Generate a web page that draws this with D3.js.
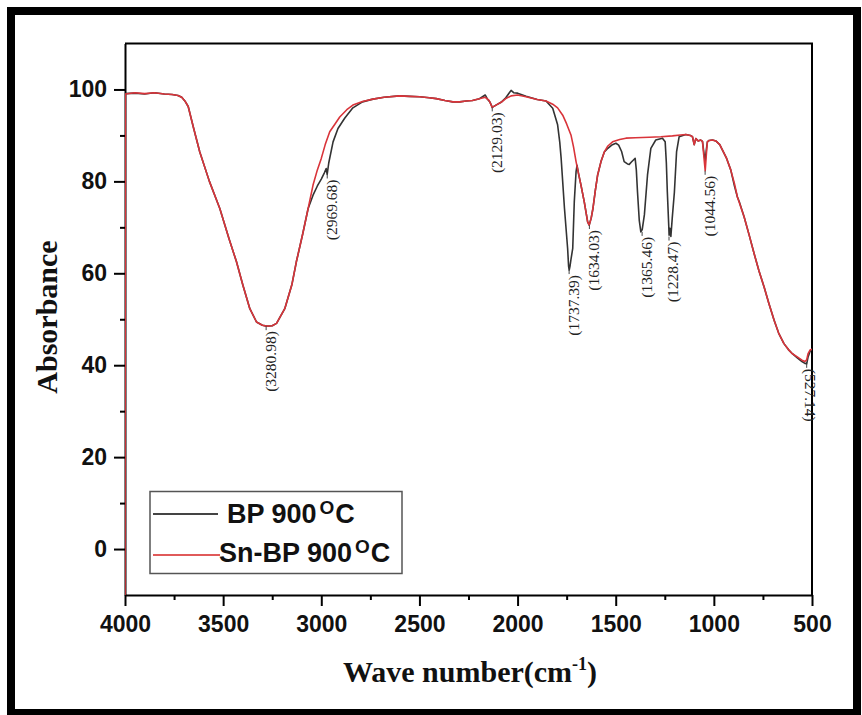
<!DOCTYPE html>
<html>
<head>
<meta charset="utf-8">
<script src="https://cdn.jsdelivr.net/npm/d3@7"></script>
<style>
  body { margin: 0; background: #fff; }
</style>
</head>
<body>
<script>
// BP 900 C spectrum (wavenumber, absorbance)
const bpWave = [4000, 3950, 3900, 3850, 3800, 3760, 3730, 3711, 3695, 3678, 3650, 3619, 3570, 3517, 3470, 3432, 3400, 3364, 3330, 3300, 3279, 3250, 3228, 3186, 3150, 3127, 3095, 3067, 3042, 3020, 3000, 2985, 2975, 2970, 2962, 2940, 2915, 2880, 2839, 2790, 2737, 2680, 2601, 2550, 2499, 2450, 2414, 2370, 2330, 2295, 2262, 2230, 2194, 2165, 2152, 2140, 2129, 2110, 2084, 2060, 2040, 2033, 2020, 2000, 1957, 1900, 1855, 1821, 1796, 1785, 1778, 1761, 1745, 1740, 1737, 1733, 1728, 1719, 1711, 1702, 1697, 1690, 1677, 1660, 1643, 1635, 1625, 1616, 1604, 1592, 1575, 1558, 1540, 1520, 1499, 1485, 1470, 1457, 1440, 1431, 1420, 1411, 1401, 1395, 1389, 1380, 1372, 1365, 1354, 1338, 1321, 1296, 1262, 1248, 1242, 1237, 1230, 1228, 1224, 1219, 1212, 1201, 1190, 1177, 1143, 1120, 1109, 1100, 1092, 1080, 1067, 1058, 1050, 1044, 1038, 1033, 1024, 1007, 990, 970, 956, 935, 914, 895, 880, 870, 846, 820, 795, 770, 744, 720, 693, 670, 643, 620, 600, 575, 551, 536, 527, 520, 510, 500]
const bpAbs = [99.1, 99.2, 99.0, 99.3, 99.0, 98.9, 98.7, 98.3, 97.5, 96.3, 91.5, 86.4, 80.0, 74.1, 67.5, 62.5, 57.5, 52.3, 49.4, 48.7, 48.5, 48.6, 49.1, 52.3, 57.5, 62.5, 68.5, 74.1, 77.0, 79.0, 80.5, 81.8, 82.8, 81.5, 84.0, 88.6, 91.5, 93.8, 96.0, 97.3, 97.9, 98.3, 98.6, 98.5, 98.4, 98.2, 98.0, 97.6, 97.3, 97.3, 97.5, 97.6, 98.0, 98.8, 97.8, 97.2, 96.1, 96.6, 97.2, 98.2, 99.4, 99.8, 99.3, 99.2, 98.5, 97.8, 97.5, 95.9, 92.3, 88.5, 85.0, 74.1, 65.4, 61.5, 60.7, 61.5, 63.0, 65.4, 75.6, 82.1, 83.5, 81.8, 79.2, 75.5, 71.2, 70.5, 72.0, 74.1, 78.0, 81.4, 84.3, 86.4, 87.2, 87.9, 88.3, 87.9, 86.5, 84.3, 83.8, 83.7, 84.2, 84.6, 85.0, 82.5, 77.7, 71.5, 69.0, 69.5, 72.7, 81.4, 87.2, 89.0, 89.4, 88.6, 84.0, 77.7, 70.5, 68.3, 69.8, 68.0, 72.0, 77.7, 86.4, 89.7, 90.2, 90.0, 89.7, 88.0, 89.3, 88.8, 89.0, 88.7, 86.0, 84.5, 87.0, 88.6, 88.9, 89.0, 88.8, 88.0, 86.8, 85.0, 82.5, 79.0, 76.6, 75.5, 72.3, 68.3, 64.3, 60.5, 57.0, 53.5, 49.8, 47.0, 44.7, 43.4, 42.5, 41.6, 40.8, 40.4, 40.3, 41.8, 43.0, 43.5]

// Sn-BP 900 C spectrum
const snWave = [4000, 3998, 3950, 3900, 3850, 3800, 3760, 3730, 3711, 3695, 3678, 3650, 3619, 3570, 3517, 3470, 3432, 3400, 3364, 3330, 3300, 3279, 3250, 3228, 3186, 3150, 3127, 3095, 3067, 3042, 3020, 3000, 2980, 2957, 2930, 2906, 2870, 2839, 2790, 2737, 2680, 2601, 2550, 2499, 2450, 2414, 2370, 2330, 2295, 2262, 2230, 2194, 2165, 2145, 2129, 2110, 2084, 2060, 2033, 2000, 1957, 1900, 1855, 1821, 1796, 1770, 1750, 1728, 1715, 1702, 1690, 1677, 1660, 1643, 1635, 1625, 1616, 1604, 1592, 1575, 1558, 1540, 1516, 1480, 1448, 1400, 1329, 1270, 1211, 1170, 1143, 1120, 1109, 1100, 1092, 1080, 1067, 1058, 1050, 1044, 1038, 1033, 1024, 1007, 990, 970, 956, 935, 914, 895, 880, 846, 820, 795, 770, 744, 720, 693, 670, 643, 620, 600, 575, 551, 536, 527, 520, 510, 500]
const snAbs = [-15, 99.0, 99.3, 99.1, 99.3, 99.0, 98.9, 98.7, 98.3, 97.5, 96.3, 91.5, 86.4, 80.0, 74.1, 67.5, 62.5, 57.5, 52.3, 49.4, 48.7, 48.5, 48.6, 49.1, 52.3, 57.5, 62.5, 68.5, 74.1, 79.2, 82.5, 85.0, 88.0, 90.8, 92.5, 94.0, 95.6, 96.6, 97.4, 97.9, 98.3, 98.6, 98.5, 98.4, 98.2, 98.0, 97.6, 97.3, 97.3, 97.5, 97.6, 98.0, 98.3, 97.6, 96.1, 96.6, 97.2, 98.0, 98.6, 98.8, 98.4, 97.8, 97.5, 96.8, 96.0, 94.4, 92.5, 90.1, 87.5, 84.3, 81.8, 79.2, 75.5, 71.2, 70.5, 72.0, 74.1, 78.0, 81.4, 84.3, 86.4, 87.7, 88.6, 89.1, 89.4, 89.5, 89.6, 89.7, 89.9, 90.1, 90.2, 90.0, 89.7, 88.0, 89.3, 88.8, 89.0, 88.7, 85.0, 82.3, 86.0, 88.6, 88.9, 89.0, 88.8, 88.0, 86.8, 85.0, 82.5, 79.5, 76.6, 72.3, 68.3, 64.3, 60.5, 57.0, 53.5, 49.8, 47.0, 44.7, 43.4, 42.5, 41.8, 41.1, 40.8, 41.2, 42.5, 43.3, 43.5]

// peak annotations
const peakWave = [3280.98, 2969.68, 2129.03, 1737.39, 1634.03, 1365.46, 1228.47, 1044.56, 527.14]
const peakAbs = [48.5, 81.5, 96.1, 60.7, 70.5, 69.0, 68.0, 82.3, 40.3]
const peakLabel = ['(3280.98)', '(2969.68)', '(2129.03)', '(1737.39)', '(1634.03)', '(1365.46)', '(1228.47)', '(1044.56)', '(527.14)']

const xTicks = [4000, 3500, 3000, 2500, 2000, 1500, 1000, 500]
const xMinor = [3750, 3250, 2750, 2250, 1750, 1250, 750]
const yTicks = [0, 20, 40, 60, 80, 100]
const yMinor = [10, 30, 50, 70, 90]

const seriesNames = ['BP 900', 'Sn-BP 900']
const seriesColors = ['#333333', '#d9343a']

const w = 862
const h = 715
const pLeft = 125, pRight = 812, pTop = 43.5, pBottom = 595

const sans = '"Liberation Sans", Arial, sans-serif'
const serif = '"Liberation Serif", "Times New Roman", serif'

const xScale = d3.scaleLinear().domain([4000, 500]).range([pLeft, pRight])
const yScale = d3.scaleLinear().domain([-10, 110]).range([pBottom, pTop])

const svg = d3.select('body')
	.append('svg')
	.attr('width', w)
	.attr('height', h)

svg.append('rect')
	.attr('width', w).attr('height', h)
	.attr('fill', '#fff')

// thick outer frame
svg.append('rect')
	.attr('x', 11).attr('y', 11)
	.attr('width', 846).attr('height', 702)
	.attr('fill', 'none')
	.attr('stroke', '#000')
	.attr('stroke-width', 8)

svg.append('clipPath').attr('id', 'plotclip')
	.append('rect')
	.attr('x', pLeft).attr('y', pTop)
	.attr('width', pRight - pLeft).attr('height', pBottom - pTop)

// axes
svg.append('g')
	.attr('transform', `translate(0,${pBottom})`)
	.call(d3.axisBottom(xScale).tickValues(xTicks).tickSize(11).tickSizeOuter(0).tickPadding(10).tickFormat(d => d))
const xAxisMinor = svg.append('g')
	.attr('transform', `translate(0,${pBottom})`)
	.call(d3.axisBottom(xScale).tickValues(xMinor).tickSize(5).tickFormat(''))
xAxisMinor.select('.domain').remove()

svg.append('g')
	.attr('transform', `translate(${pLeft},0)`)
	.call(d3.axisLeft(yScale).tickValues(yTicks).tickSize(11).tickSizeOuter(0).tickPadding(7))
const yAxisMinor = svg.append('g')
	.attr('transform', `translate(${pLeft},0)`)
	.call(d3.axisLeft(yScale).tickValues(yMinor).tickSize(5).tickFormat(''))
yAxisMinor.select('.domain').remove()

svg.selectAll('.domain, .tick line')
	.attr('stroke', '#000')
	.attr('stroke-width', 2)

svg.selectAll('.tick text')
	.attr('font-family', sans)
	.attr('font-weight', 'bold')
	.attr('font-size', 23)
	.attr('fill', '#111')

// top and right frame of the plot
svg.append('path')
	.attr('d', `M${pLeft},${pTop}H${pRight}V${pBottom}`)
	.attr('fill', 'none')
	.attr('stroke', '#000')
	.attr('stroke-width', 2)

// spectra
const line = d3.line()
	.x(d => xScale(d[0]))
	.y(d => yScale(d[1]))

const plot = svg.append('g').attr('clip-path', 'url(#plotclip)')

plot.append('path')
	.datum(d3.zip(bpWave, bpAbs))
	.attr('d', line)
	.attr('fill', 'none')
	.attr('stroke', seriesColors[0])
	.attr('stroke-width', 1.6)
	.attr('stroke-linejoin', 'round')

plot.append('path')
	.datum(d3.zip(snWave, snAbs))
	.attr('d', line)
	.attr('fill', 'none')
	.attr('stroke', seriesColors[1])
	.attr('stroke-width', 1.6)
	.attr('stroke-linejoin', 'round')

// peak labels
const peaks = d3.zip(peakWave, peakAbs, peakLabel)

svg.selectAll('.leader')
	.data(peaks)
	.enter()
	.append('line')
	.attr('x1', d => xScale(d[0]))
	.attr('x2', d => xScale(d[0]))
	.attr('y1', d => yScale(d[1]))
	.attr('y2', d => yScale(d[1]) + 4)
	.attr('stroke', '#444')
	.attr('stroke-width', 1)

svg.selectAll('.peak')
	.data(peaks)
	.enter()
	.append('text')
	.attr('transform', d => {
		const px = xScale(d[0]) + 4
		const py = yScale(d[1]) + 5
		return d[0] < 600 ? `translate(${px},${py}) rotate(90)` : `translate(${px},${py}) rotate(-90)`
	})
	.attr('text-anchor', d => d[0] < 600 ? 'start' : 'end')
	.attr('dy', '0.35em')
	.attr('font-family', serif)
	.attr('font-size', 15.5)
	.attr('fill', '#222')
	.text(d => d[2])

// axis titles
svg.append('text')
	.attr('transform', 'translate(57,317) rotate(-90)')
	.attr('text-anchor', 'middle')
	.attr('font-family', serif)
	.attr('font-weight', 'bold')
	.attr('font-size', 30)
	.attr('fill', '#111')
	.text('Absorbance')

const xTitle = svg.append('text')
	.attr('x', 470)
	.attr('y', 682)
	.attr('text-anchor', 'middle')
	.attr('font-family', serif)
	.attr('font-weight', 'bold')
	.attr('font-size', 30)
	.attr('fill', '#111')
xTitle.append('tspan').text('Wave number(cm')
xTitle.append('tspan').attr('font-size', 18).attr('dy', -12).text('-1')
xTitle.append('tspan').attr('dy', 12).text(')')

// legend
const legend = svg.append('g')
legend.append('rect')
	.attr('x', 150).attr('y', 491.5)
	.attr('width', 252).attr('height', 82)
	.attr('fill', '#fff')
	.attr('stroke', '#555')
	.attr('stroke-width', 1.5)

const legendRows = [
	{ y: 514, x2: 218, tx: 227, ty: 523 },
	{ y: 555, x2: 220, tx: 219, ty: 562 }
]

legendRows.forEach((r, i) => {
	legend.append('line')
		.attr('x1', 153).attr('x2', r.x2)
		.attr('y1', r.y).attr('y2', r.y)
		.attr('stroke', i === 0 ? '#444' : '#e05a5a')
		.attr('stroke-width', 2)
	const t = legend.append('text')
		.attr('x', r.tx).attr('y', r.ty)
		.attr('font-family', sans)
		.attr('font-weight', 'bold')
		.attr('font-size', 27)
		.attr('fill', '#111')
	t.append('tspan').text(seriesNames[i])
	t.append('tspan').attr('font-size', 19).attr('dx', 3).attr('dy', -9).text('O')
	t.append('tspan').attr('dx', 1).attr('dy', 9).text('C')
})
</script>
</body>
</html>
